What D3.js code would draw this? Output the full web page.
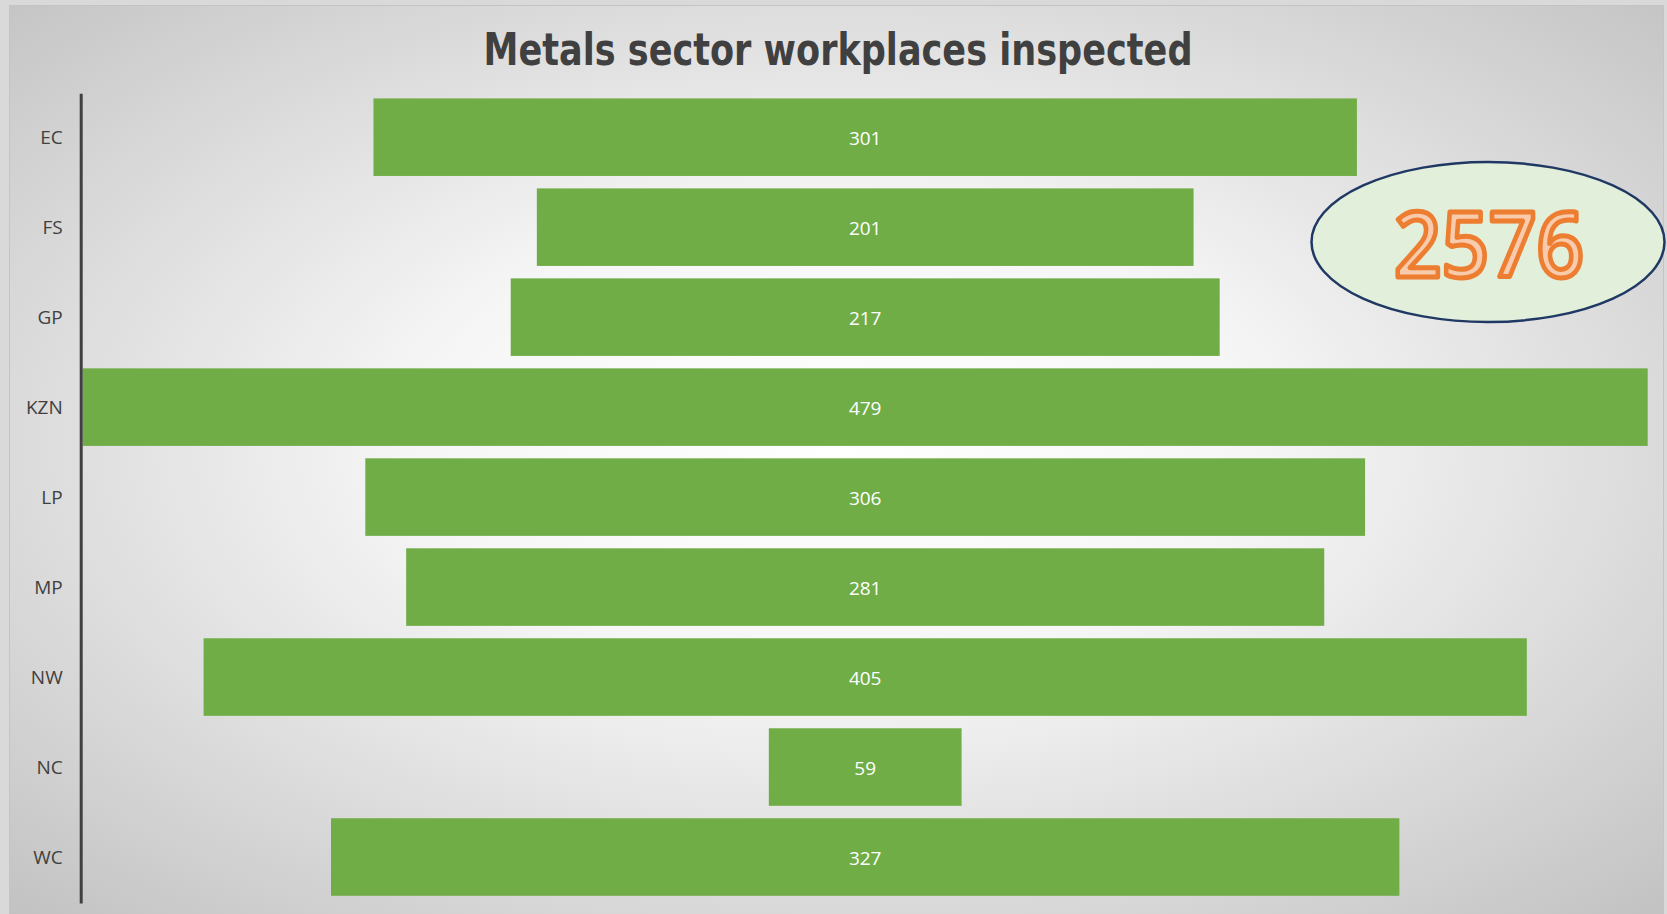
<html>
<head>
  <title>Metals sector workplaces inspected</title>
  <script src="https://d3js.org/d3.v7.min.js"></script>
  <style>
    body { margin: 0; background: #d9d9d9; }
  </style>
</head>
<body>
  <div id="vis"></div>
  <script type="text/javascript">

    // data
    var categories = ["EC", "FS", "GP", "KZN", "LP", "MP", "NW", "NC", "WC"];
    var values = [301, 201, 217, 479, 306, 281, 405, 59, 327];
    var title = "Metals sector workplaces inspected";

    var W = 1667, H = 914;
    var cx = 865.2;         // funnel centre line
    var axisX = 80.7;

    var svg = d3.select("#vis").append("svg")
        .attr("width", W)
        .attr("height", H);

    var defs = svg.append("defs");
    var grad = defs.append("radialGradient")
        .attr("id", "bg")
        .attr("cx", "50%").attr("cy", "48%").attr("r", "72%");
    grad.append("stop").attr("offset", "0%").attr("stop-color", "#ffffff");
    grad.append("stop").attr("offset", "35%").attr("stop-color", "#f6f6f6");
    grad.append("stop").attr("offset", "100%").attr("stop-color", "#c2c2c2");

    // chart area
    svg.append("rect")
        .attr("x", 9.5).attr("y", 5.5)
        .attr("width", 1654).attr("height", 912)
        .attr("fill", "url(#bg)")
        .attr("stroke", "#c4c4c4")
        .attr("stroke-width", 1);

    var x = d3.scaleLinear()
        .domain([0, d3.max(values)])
        .range([0, 1565]);

    var y = d3.scaleBand()
        .domain(categories)
        .range([92.2, 902])
        .paddingInner(0.138)
        .paddingOuter(0.069);

    // bars
    svg.selectAll(".bar")
        .data(values)
        .enter()
        .append("rect")
        .attr("class", "bar")
        .attr("x", function(d) { return cx - x(d) / 2; })
        .attr("y", function(d, i) { return y(categories[i]); })
        .attr("width", function(d) { return x(d); })
        .attr("height", y.bandwidth())
        .attr("fill", "#70ad47");

    // value labels
    svg.selectAll(".val")
        .data(values)
        .enter()
        .append("text")
        .attr("class", "val")
        .attr("x", cx)
        .attr("y", function(d, i) { return y(categories[i]) + y.bandwidth() / 2 + 1; })
        .attr("dy", "0.35em")
        .attr("text-anchor", "middle")
        .attr("font-family", "'Open Sans', 'Noto Sans', sans-serif")
        .attr("font-size", 19)
        .attr("fill", "#ffffff")
        .text(function(d) { return d; });

    // category axis
    var axis = svg.append("g")
        .attr("transform", "translate(" + axisX + ",1)")
        .call(d3.axisLeft(y).tickSize(0).tickSizeOuter(0).tickPadding(18));

    axis.select(".domain")
        .attr("stroke", "#404040")
        .attr("stroke-width", 3);

    axis.selectAll("text")
        .attr("font-family", "'Open Sans', 'Noto Sans', sans-serif")
        .attr("font-size", 19)
        .attr("fill", "#404040");

    // title
    svg.append("text")
        .attr("x", 838)
        .attr("y", 65)
        .attr("text-anchor", "middle")
        .attr("font-family", "'Liberation Sans Narrow', 'DejaVu Sans Condensed', sans-serif")
        .attr("font-weight", "bold")
        .attr("font-size", 44)
        .attr("textLength", 709)
        .attr("lengthAdjust", "spacingAndGlyphs")
        .attr("fill", "#404040")
        .text(title);

    // total bubble
    svg.append("ellipse")
        .attr("cx", 1488)
        .attr("cy", 242)
        .attr("rx", 176.5)
        .attr("ry", 80)
        .attr("fill", "#e2efda")
        .attr("stroke", "#1f3864")
        .attr("stroke-width", 2.5);

    svg.append("text")
        .attr("x", 1489)
        .attr("y", 277)
        .attr("text-anchor", "middle")
        .attr("font-family", "'Open Sans', 'Noto Sans', sans-serif")
        .attr("font-weight", 600)
        .attr("font-size", 90)
        .attr("textLength", 190)
        .attr("lengthAdjust", "spacingAndGlyphs")
        .attr("fill", "#f8cbad")
        .attr("stroke", "#ed7d31")
        .attr("stroke-width", 5)
        .attr("stroke-linejoin", "round")
        .text(d3.sum(values));

  </script>
</body>
</html>
